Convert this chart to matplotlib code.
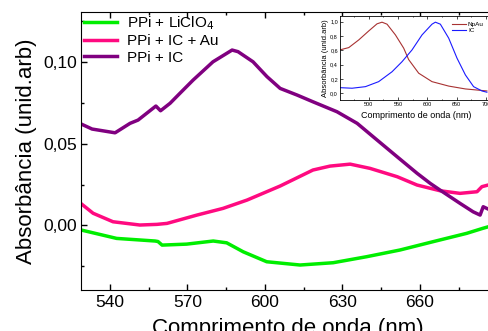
import matplotlib
matplotlib.use("Agg")
import matplotlib.pyplot as plt
from matplotlib.ticker import MultipleLocator, FuncFormatter

plt.rcParams['font.family'] = ['Liberation Sans', 'DejaVu Sans']

# main spectra
x_lic = [529.0, 542.6, 557.5, 558.6, 560.2, 569.7, 580.0, 585.2, 591.6, 600.7,
         613.6, 626.4, 639.4, 652.3, 665.1, 678.1, 684.4, 686.4]
y_lic = [-0.0029, -0.0080, -0.0096, -0.0099, -0.0121, -0.0115, -0.0096, -0.0107, -0.0162, -0.0223,
         -0.0243, -0.0229, -0.0192, -0.0151, -0.0100, -0.0049, -0.0018, -0.0009]

x_au = [529.0, 533.5, 541.2, 551.6, 558.2, 562.1, 573.7, 583.8, 593.1, 605.9, 618.6,
        625.2, 633.0, 640.7, 651.2, 658.9, 667.8, 675.5, 682.1, 684.0, 686.4]
y_au = [0.0131, 0.0074, 0.0022, 0.0002, 0.0006, 0.0012, 0.0063, 0.0104, 0.0155, 0.0241, 0.0339,
        0.0363, 0.0375, 0.0349, 0.0298, 0.0247, 0.0212, 0.0196, 0.0206, 0.0237, 0.0247]

x_ic = [529.0, 533.1, 542.0, 547.8, 550.9, 557.8, 559.6, 563.3, 567.1, 572.2, 579.9,
        587.3, 589.6, 595.4, 600.8, 605.9, 612.5, 618.6, 627.9, 635.7, 643.4, 651.2,
        658.9, 664.0, 667.8, 675.5, 680.6, 683.3, 684.5, 686.4]
y_ic = [0.0620, 0.0590, 0.0567, 0.0625, 0.0645, 0.0731, 0.0702, 0.0748, 0.0809, 0.0890, 0.1002,
        0.1074, 0.1064, 0.1002, 0.0911, 0.0839, 0.0798, 0.0757, 0.0696, 0.0625, 0.0523, 0.0420,
        0.0319, 0.0257, 0.0216, 0.0135, 0.0083, 0.0063, 0.0114, 0.0100]

# inset spectra
xin_np = [451, 466, 483, 500, 514.2, 522.7, 531.3, 545.6, 559.7, 568.2, 585.3, 608, 636.5, 665, 701.7]
yin_np = [0.606, 0.638, 0.745, 0.87, 0.97, 0.993, 0.965, 0.815, 0.63, 0.47, 0.28, 0.162, 0.10, 0.06, 0.032]
xin_ic = [451, 471.6, 494.4, 517, 539.8, 556.8, 573.9, 591, 608, 613.8, 622.3, 636.5, 650.7, 665, 679, 693.2, 701.7]
yin_ic = [0.078, 0.07, 0.092, 0.162, 0.30, 0.44, 0.605, 0.815, 0.965, 0.993, 0.965, 0.77, 0.49, 0.256, 0.092, 0.032, 0.014]

fig = plt.figure(figsize=(4.88, 3.31), dpi=100)
ax = fig.add_axes([0.167, 0.1239, 0.847, 0.8398])

ax.plot(x_lic, y_lic, color='#00EE00', lw=2.5, label='PPi + LiClO$_4$')
ax.plot(x_au, y_au, color='#FF0A80', lw=2.5, label='PPi + IC + Au')
ax.plot(x_ic, y_ic, color='#800080', lw=2.5, label='PPi + IC')

ax.set_xlim(529, 689)
ax.set_ylim(-0.0396, 0.1307)
ax.xaxis.set_major_locator(MultipleLocator(30))
ax.xaxis.set_minor_locator(MultipleLocator(15))
ax.yaxis.set_major_locator(MultipleLocator(0.05))
ax.yaxis.set_minor_locator(MultipleLocator(0.025))
ax.yaxis.set_major_formatter(FuncFormatter(lambda v, p: f"{v:.2f}".replace('.', ',')))
ax.tick_params(which='both', direction='in', top=True, labelsize=12.5, width=1)
ax.tick_params(which='major', length=4)
ax.tick_params(which='minor', length=2.5)
ax.set_xlabel('Comprimento de onda (nm)', fontsize=16, labelpad=6)
ax.set_ylabel('Absorbância (unid.arb)', fontsize=16, labelpad=4)
ax.legend(loc='upper left', frameon=False, fontsize=11, handlelength=2.2,
          handletextpad=0.6, labelspacing=0.15, borderaxespad=0.05, borderpad=0.1)

# inset
axi = fig.add_axes([0.6967, 0.698, 0.3134, 0.2538])
axi.plot(xin_np, yin_np, color='#A83232', lw=0.8, label='NpAu')
axi.plot(xin_ic, yin_ic, color='#1A1AFF', lw=0.8, label='IC')
axi.set_xlim(451, 712)
axi.set_ylim(-0.094, 1.08)
axi.xaxis.set_major_locator(MultipleLocator(50))
axi.xaxis.set_minor_locator(MultipleLocator(25))
axi.yaxis.set_major_locator(MultipleLocator(0.2))
axi.yaxis.set_major_formatter(FuncFormatter(lambda v, p: f"{v:.1f}".replace('.', ',')))
axi.tick_params(which='both', direction='in', top=True, labelsize=4, pad=1.5, width=0.5)
axi.tick_params(which='major', length=2)
axi.tick_params(which='minor', length=1)
for s in axi.spines.values():
    s.set_linewidth(0.6)
axi.set_xlabel('Comprimento de onda (nm)', fontsize=6.5, labelpad=3)
axi.set_ylabel('Absorbância (unid.arb)', fontsize=5.5, labelpad=1)
axi.legend(loc='upper right', bbox_to_anchor=(0.97, 0.99), frameon=False, fontsize=4.6,
           handlelength=2.2, handletextpad=0.3, labelspacing=0.1, borderpad=0.2)

fig.savefig('out.png', dpi=100)
